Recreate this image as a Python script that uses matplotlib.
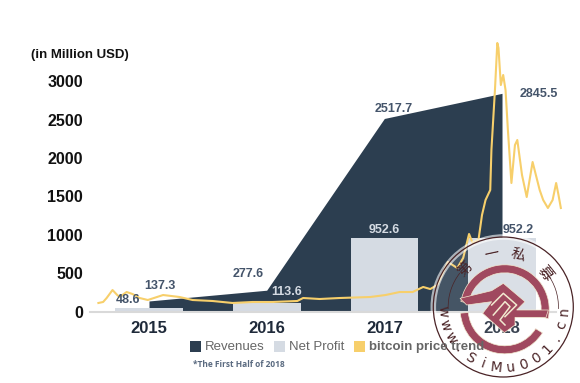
import numpy as np
import matplotlib.pyplot as plt
from matplotlib.patches import Circle, Wedge, Polygon, Rectangle

years = [2015, 2016, 2017, 2018]
revenues = [137.3, 277.6, 2517.7, 2845.5]
net_profit = [48.6, 113.6, 952.6, 952.2]
yticks = [0, 500, 1000, 1500, 2000, 2500, 3000]

# bitcoin price trend in the units of the left axis
btc_x = [2014.57, 2014.61, 2014.64, 2014.69, 2014.73, 2014.75, 2014.81, 2014.86, 2014.92, 2014.99,
         2015.12, 2015.26, 2015.37, 2015.54, 2015.71, 2015.88, 2016.05, 2016.26, 2016.31, 2016.45,
         2016.62, 2016.88, 2017.01, 2017.13, 2017.24, 2017.33, 2017.39, 2017.45, 2017.54, 2017.62,
         2017.67, 2017.72, 2017.75, 2017.80, 2017.83, 2017.86, 2017.90, 2017.91, 2017.94, 2017.96,
         2017.97, 2017.99, 2018.01, 2018.03, 2018.05, 2018.08, 2018.11, 2018.13, 2018.17, 2018.21,
         2018.26, 2018.32, 2018.35, 2018.39, 2018.43, 2018.46, 2018.48, 2018.50]
btc_y = [111, 124, 176, 280, 215, 189, 254, 228, 176, 150,
         215, 189, 150, 137, 111, 124, 124, 137, 176, 163,
         176, 189, 215, 254, 254, 320, 293, 346, 646, 567,
         698, 1011, 893, 933, 1259, 1454, 1585, 2106, 2889, 3502,
         3437, 2954, 3085, 2889, 2367, 1676, 2171, 2237, 1780, 1493,
         1950, 1585, 1454, 1350, 1454, 1676, 1520, 1350]

navy = '#2c3e50'
pale = '#d5dbe3'
gold = '#f7cf6b'
label_col = '#44546a'
maroon = '#a0495f'
ring_col = '#4a2326'
cream = '#f2ead0'

plt.rcParams['font.family'] = ['Liberation Sans', 'DejaVu Sans']

W, H = 580, 383
fig = plt.figure(figsize=(W / 100, H / 100), dpi=100)

# axes box set so the years and the ticks land where the reference has them
left, right = 90, 556
top, bottom = 40, 311.5
ax = fig.add_axes([left / W, 1 - bottom / H, (right - left) / W, (bottom - top) / H])
ax.set_xlim(2015 + (left - 149) / 117.67, 2015 + (right - 149) / 117.67)
ax.set_ylim(0, (bottom - top) / 0.07667)

ax.fill_between(years, revenues, color=navy, lw=0, zorder=1)
ax.bar(years, net_profit, width=0.575, color=pale, zorder=2)
ax.plot(btc_x, btc_y, color=gold, lw=1.5, zorder=3, clip_on=False)

for s in ['top', 'right', 'left']:
    ax.spines[s].set_visible(False)
ax.spines['bottom'].set_color('#d9d9d9')
ax.spines['bottom'].set_linewidth(1.5)
ax.set_xticks(years)
ax.set_xticklabels(['2015', '2016', '2017', '2018'], fontsize=12, fontweight='bold', color='#1f2a3a')
ax.set_yticks(yticks)
ax.set_yticklabels([str(t) for t in yticks], fontsize=11.5, fontweight='bold', color='#111111')
ax.tick_params(axis='both', length=0)
ax.tick_params(axis='x', pad=7)
ax.tick_params(axis='y', pad=5)

rev_pos = [(2015.09, 250), (2015.84, 410), (2017.08, 2565), (2018.31, 2760)]
for (px, py), v in zip(rev_pos, revenues):
    ax.text(px, py, f'{v:.1f}', ha='center', va='bottom', fontsize=9, fontweight='bold', color=label_col)
prof_pos = [(2014.82, 70), (2016.17, 180), (2017.0, 985), (2018.14, 985)]
prof_cols = [label_col, pale, pale, label_col]
for (px, py), v, c in zip(prof_pos, net_profit, prof_cols):
    ax.text(px, py, f'{v:.1f}', ha='center', va='bottom', fontsize=9, fontweight='bold', color=c)

fig.text(31 / W, 1 - 55 / H, '(in Million USD)', fontsize=9.5, fontweight='bold', color='#111111', va='center')
fig.text(193 / W, 1 - 364.5 / H, '*The First Half of 2018', fontsize=6, fontweight='bold', color='#5a6a80',
         va='center', family=['Open Sans', 'DejaVu Sans'])

# legend drawn by hand, spacing in the reference is tighter than the library gives
ov = fig.add_axes([0, 0, 1, 1], zorder=5)
ov.set_xlim(0, W)
ov.set_ylim(H, 0)
ov.axis('off')
ov.patch.set_alpha(0)
for x0, c, name in [(190, navy, 'Revenues'), (274, pale, 'Net Profit'), (354, gold, 'bitcoin price trend')]:
    ov.add_patch(Rectangle((x0, 341), 10.5, 11, color=c, lw=0))
    ov.text(x0 + 15, 347, name, fontsize=9.5, fontweight='bold' if c == gold else 'normal',
            color='#666666', va='center')

# stamp over the lower right corner
cx, cy = 503.3, 307
ov.add_patch(Circle((cx, cy), 70, fc='white', ec='none', alpha=0.12))
ov.add_patch(Circle((cx, cy), 70, fc='none', ec='white', lw=4, alpha=0.6))
ov.add_patch(Circle((cx, cy), 70, fc='none', ec=ring_col, lw=0.9))
# y is flipped here, so angles run clockwise on screen
ov.add_patch(Wedge((cx, cy), 55.5, 178, 218, width=0.7, fc=ring_col, ec='none'))
ov.add_patch(Wedge((cx, cy), 55.5, 322, 362, width=0.7, fc=ring_col, ec='none'))

for ch, ang in zip('第一私募', [-45, -12, 16, 51]):
    a = np.radians(ang)
    ov.text(cx + 54 * np.sin(a), cy - 54 * np.cos(a), ch, fontsize=10.5, color=ring_col,
            ha='center', va='center', rotation=-ang, family=['Noto Sans CJK SC', 'DejaVu Sans'])

url = 'www.SiMu001.cn'
for ch, ang in zip(url, np.linspace(-86, 86, len(url))):
    a = np.radians(ang)
    ov.text(cx + 61 * np.sin(a), cy + 61 * np.cos(a), ch, fontsize=10, color=ring_col,
            ha='center', va='center', rotation=ang, family=['DejaVu Sans'])


def z(pts):
    return [(450 + a / 3, 260 + b / 3) for a, b in pts]


lx, ly = 504.7, 309.3
for t1, t2 in [(190, 372), (32, 175)]:
    ov.add_patch(Wedge((lx, ly), 44.5, t1, t2, width=8, fc=maroon, ec=cream, lw=0.5))
ov.add_patch(Polygon(z([(30, 115), (125, 92), (160, 70), (225, 125), (200, 150), (295, 150), (288, 172),
                        (195, 172), (195, 195), (163, 218), (98, 160), (125, 125), (50, 135)]),
                     fc=maroon, ec=cream, lw=0.5))
ov.plot(*zip(*z([(130, 165), (165, 125), (180, 140), (150, 180), (165, 195)])), color=cream, lw=1.1)
ov.plot(*zip(*z([(125, 135), (160, 100), (200, 135), (165, 170)])), color=cream, lw=1.1)

fig.savefig('out.png', dpi=100)
